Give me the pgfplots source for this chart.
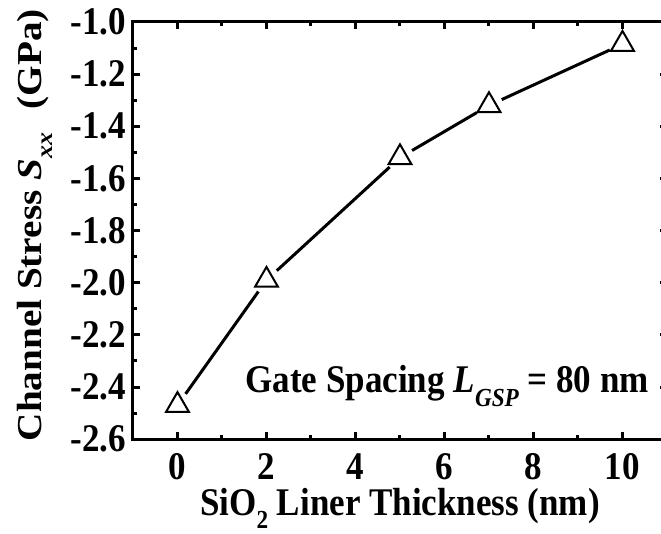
\documentclass[border=0pt]{standalone}
\usepackage{fontspec}
\setmainfont{Liberation Serif}
\newfontfamily\hfont{Liberation Serif}[FakeStretch=0.893]
\newfontfamily\vfont{Liberation Serif}[FakeStretch=1.12]
\usepackage{pgfplots}
\pgfplotsset{compat=1.18}
\newcommand{\hf}{\hfont\fontsize{19.6}{23}\selectfont\bfseries}
\newcommand{\vf}{\vfont\fontsize{17.5}{21}\selectfont\bfseries}
\begin{document}
\begin{tikzpicture}
\begin{axis}[
  at={(0,0)}, anchor=south west,
  scale only axis, width=267pt, height=208.6pt,
  xmin=-1, xmax=11, ymin=-2.6, ymax=-1.0,
  xtick={0,2,4,6,8,10},
  ytick={-2.6,-2.4,-2.2,-2.0,-1.8,-1.6,-1.4,-1.2,-1.0},
  minor x tick num=1, minor y tick num=1,
  tick align=inside,
  major tick length=3.5pt, minor tick length=2pt,
  every tick/.style={black, line width=1.5pt},
  axis line style={line width=1.5pt},
  /pgf/number format/assume math mode=true,
  ticklabel style={font=\hf},
  yticklabel style={/pgf/number format/.cd, fixed, fixed zerofill, precision=1},
  xticklabel style={anchor=base, yshift=-20pt},
  xlabel={SiO\raisebox{-6.5pt}{\fontsize{13}{13}\selectfont 2} Liner Thickness (nm)},
  ylabel={Channel Stress \textit{S}\raisebox{-5.5pt}{\fontsize{11.5}{12}\selectfont\textit{xx}}\hspace{0.4em} (GPa)},
  xlabel style={font=\hf, at={(axis description cs:0.5,-0.184)}, anchor=base},
  ylabel style={font=\vf, at={(axis description cs:-0.172,0.513)}, anchor=base},
  clip=false,
]
\addplot[line width=1.5pt, shorten <=7pt, shorten >=7pt] coordinates {(0,-2.47) (2,-1.99)};
\addplot[line width=1.5pt, shorten <=7pt, shorten >=7pt] coordinates {(2,-1.99) (5,-1.52)};
\addplot[line width=1.5pt, shorten <=7pt, shorten >=7pt] coordinates {(5,-1.52) (7,-1.32)};
\addplot[line width=1.5pt, shorten <=7pt, shorten >=7pt] coordinates {(7,-1.32) (10,-1.085)};
\addplot[only marks, mark=triangle*, mark size=6.6pt,
  mark options={fill=white, draw=black, line width=1pt}]
  coordinates {(0,-2.47) (2,-1.99) (5,-1.52) (7,-1.32) (10,-1.085)};
\node[anchor=base west, inner sep=0pt, font=\hf]
  at (axis cs:1.52,-2.42)
  {Gate Spacing \textit{L}\raisebox{-7pt}{\fontsize{13}{13}\selectfont\textit{GSP}} = 80 nm};
\end{axis}
\pgfresetboundingbox
\useasboundingbox (-66.5pt,-47pt) rectangle (264pt,219.6pt);
\end{tikzpicture}
\end{document}
